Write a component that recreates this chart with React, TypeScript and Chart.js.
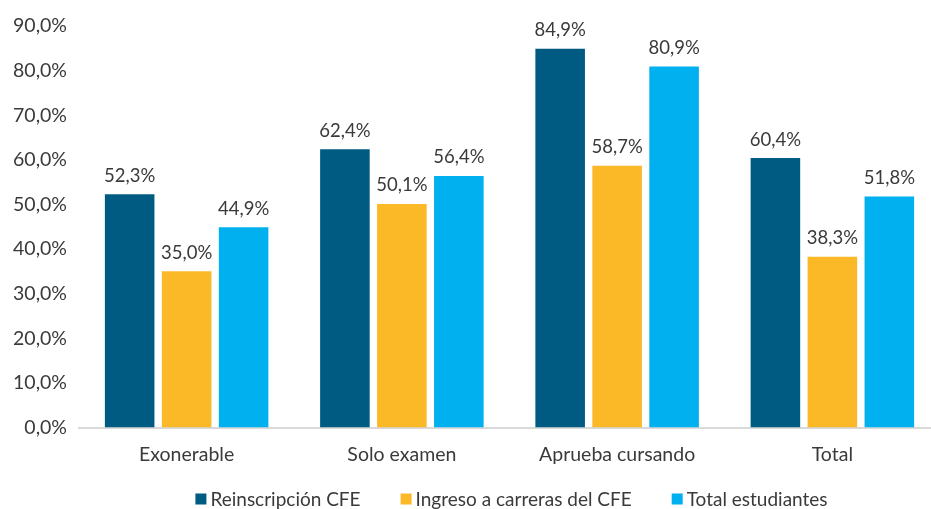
import React, { useEffect, useRef } from "react";
import { Chart, registerables } from "chart.js";

Chart.register(...registerables);

const categories = ["Exonerable", "Solo examen", "Aprueba cursando", "Total"];
const seriesNames = ["Reinscripción CFE", "Ingreso a carreras del CFE", "Total estudiantes"];
const reinscripcion = [52.3, 62.4, 84.9, 60.4];
const ingreso = [35.0, 50.1, 58.7, 38.3];
const totalEstudiantes = [44.9, 56.4, 80.9, 51.8];
const yTicks = [0, 10, 20, 30, 40, 50, 60, 70, 80, 90];
const colors = ["#005B82", "#FBB827", "#00B0EF"];

const FONT = "Lato, 'Open Sans', sans-serif";
const TEXT = "#3A3A3A";

const fmt = (v: number) => v.toFixed(1).replace(".", ",") + "%";

const dataLabelPlugin = {
  id: "dataLabels",
  afterDatasetsDraw(chart: any) {
    const ctx = chart.ctx;
    ctx.save();
    ctx.font = `18.5px ${FONT}`;
    ctx.fillStyle = TEXT;
    ctx.textAlign = "center";
    ctx.textBaseline = "alphabetic";
    chart.data.datasets.forEach((ds: any, i: number) => {
      const meta = chart.getDatasetMeta(i);
      meta.data.forEach((bar: any, j: number) => {
        ctx.fillText(fmt(ds.data[j]), bar.x, bar.y - 12.5);
      });
    });
    ctx.restore();
  },
};

const legendPlugin = {
  id: "customLegend",
  afterDraw(chart: any) {
    const ctx = chart.ctx;
    ctx.save();
    ctx.font = `19px ${FONT}`;
    ctx.textBaseline = "middle";
    ctx.textAlign = "left";
    const box = 11;
    const gapText = 4;
    const gapItem = 40;
    const widths = seriesNames.map((n) => box + gapText + ctx.measureText(n).width);
    const total = widths.reduce((a, b) => a + b, 0) + gapItem * (widths.length - 1);
    let x = 511.5 - total / 2;
    const cy = 499;
    seriesNames.forEach((n, i) => {
      ctx.fillStyle = colors[i];
      ctx.fillRect(x, cy - box / 2, box, box);
      ctx.fillStyle = TEXT;
      ctx.fillText(n, x + box + gapText, cy + 1);
      x += widths[i] + gapItem;
    });
    ctx.restore();
  },
};

export default function App() {
  const ref = useRef<HTMLCanvasElement | null>(null);
  useEffect(() => {
    if (!ref.current) return;
    const chart = new Chart(ref.current, {
      type: "bar",
      data: {
        labels: categories,
        datasets: [
          { label: seriesNames[0], data: reinscripcion, backgroundColor: colors[0] },
          { label: seriesNames[1], data: ingreso, backgroundColor: colors[1] },
          { label: seriesNames[2], data: totalEstudiantes, backgroundColor: colors[2] },
        ],
      },
      options: {
        responsive: false,
        animation: false,
        devicePixelRatio: 1,
        layout: { padding: { top: 26, right: 20, bottom: 0, left: 0 } },
        datasets: {
          bar: { categoryPercentage: 0.794, barPercentage: 0.87 },
        },
        plugins: {
          legend: { display: false },
          tooltip: { enabled: false },
        },
        scales: {
          x: {
            grid: { display: false, drawTicks: false },
            border: { display: true, color: "#D9D9D9", width: 2 },
            ticks: { color: TEXT, font: { family: FONT, size: 19.5 }, padding: 16, maxRotation: 0 },
            afterFit: (s: any) => {
              s.height = 81.5;
            },
          },
          y: {
            min: 0,
            max: 90,
            afterBuildTicks: (s: any) => {
              s.ticks = yTicks.map((v) => ({ value: v }));
            },
            grid: { display: false, drawTicks: false },
            border: { display: false },
            ticks: {
              color: TEXT,
              font: { family: FONT, size: 19.5 },
              padding: 12,
              callback: (v: any) => fmt(Number(v)),
            },
            afterFit: (s: any) => {
              s.width = 79;
            },
          },
        },
      },
      plugins: [dataLabelPlugin, legendPlugin],
    });
    return () => chart.destroy();
  }, []);
  return (
    <div style={{ position: "fixed", left: 0, top: 0, width: 931, height: 509, overflow: "hidden", background: "#fff" }}>
      <canvas ref={ref} width={960} height={509} style={{ width: 960, height: 509, display: "block" }} />
    </div>
  );
}
